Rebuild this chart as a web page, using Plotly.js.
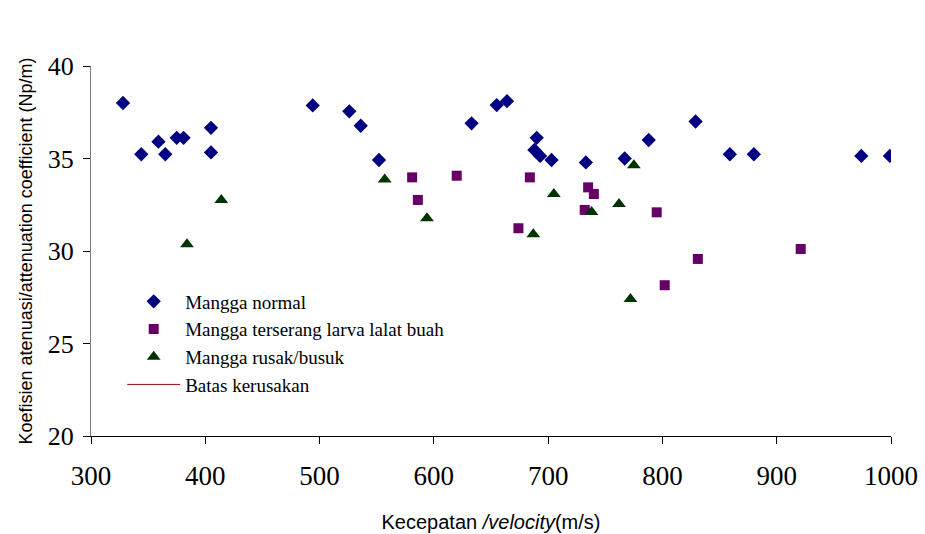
<!DOCTYPE html>
<html><head><meta charset="utf-8">
<script src="https://cdn.plot.ly/plotly-3.0.1.min.js"></script>
<style>body{margin:0;background:#fff}#chart{width:925px;height:534px}</style>
</head><body><div id="chart"></div>
<script>
const normalX = [328, 344, 359, 365, 375, 381, 405, 405, 494, 526, 536, 552, 633, 655, 664, 690, 688, 693, 703, 733, 767, 788, 829, 859, 880, 974, 999];
const normalY = [38.0, 35.23, 35.91, 35.23, 36.12, 36.12, 36.66, 35.33, 37.87, 37.55, 36.77, 34.92, 36.9, 37.89, 38.1, 36.12, 35.46, 35.14, 34.92, 34.79, 35.0, 36.0, 37.0, 35.23, 35.23, 35.14, 35.14];
const larvaX = [581, 586, 620, 674, 684, 735, 740, 732, 795, 831, 802, 921];
const larvaY = [33.98, 32.76, 34.07, 31.23, 33.98, 33.44, 33.08, 32.22, 32.09, 29.57, 28.15, 30.11];
const busukX = [384, 414, 557, 594, 687, 705, 738, 762, 775, 772];
const busukY = [30.36, 32.76, 33.87, 31.77, 30.9, 33.08, 32.11, 32.54, 34.63, 27.4];
const seriesNames = ["Mangga normal", "Mangga terserang larva lalat buah", "Mangga rusak/busuk", "Batas kerusakan"];
const xTicks = [300, 400, 500, 600, 700, 800, 900, 1000];
const yTicks = [20, 25, 30, 35, 40];

const traces = [
  {x: normalX, y: normalY, name: seriesNames[0], mode: 'markers', type: 'scatter',
   marker: {symbol: 'diamond', size: 11, color: '#000080'}},
  {x: larvaX, y: larvaY, name: seriesNames[1], mode: 'markers', type: 'scatter',
   marker: {symbol: 'square', size: 10, color: '#660066'}},
  {x: busukX, y: busukY, name: seriesNames[2], mode: 'markers', type: 'scatter',
   marker: {symbol: 'triangle-up', size: 12, color: '#003300'}},
  {x: [null], y: [null], name: seriesNames[3], mode: 'lines', type: 'scatter',
   line: {color: '#990000', width: 1}}
];

const layout = {
  width: 925, height: 534,
  margin: {l: 91, r: 34, t: 66, b: 98},
  paper_bgcolor: '#fff', plot_bgcolor: '#fff',
  showlegend: true,
  legend: {x: 0.039, y: 0.415, xanchor: 'left', yanchor: 'top', bgcolor: 'rgba(0,0,0,0)',
    font: {family: 'Liberation Serif, Times New Roman, serif', size: 19, color: '#000'},
    tracegroupgap: 0, itemwidth: 53},
  xaxis: {range: [300, 1000], tickvals: xTicks, ticktext: xTicks.map(String),
    showgrid: false, zeroline: false, showline: true, linecolor: '#000', linewidth: 1,
    ticks: 'outside', ticklen: 7, tickcolor: '#000', ticklabelstandoff: 9,
    tickfont: {family: 'Liberation Serif, Times New Roman, serif', size: 27, color: '#000'},
    title: {text: 'Kecepatan <i>/velocity</i>(m/s)', standoff: 24,
      font: {family: 'Liberation Sans, Arial, sans-serif', size: 20, color: '#000'}}},
  yaxis: {range: [20, 40], tickvals: yTicks, ticktext: yTicks.map(String),
    showgrid: false, zeroline: false, showline: true, linecolor: '#808080', linewidth: 1,
    ticks: 'outside', ticklen: 7, tickcolor: '#000', ticklabelstandoff: 4,
    tickfont: {family: 'Liberation Serif, Times New Roman, serif', size: 26, color: '#000'},
    title: {text: 'Koefisien atenuasi/attenuation coefficient (Np/m)', standoff: 10,
      font: {family: 'Liberation Sans, Arial, sans-serif', size: 18, color: '#000'}}}
};
Plotly.newPlot('chart', traces, layout, {displayModeBar: false, staticPlot: true});
</script></body></html>
